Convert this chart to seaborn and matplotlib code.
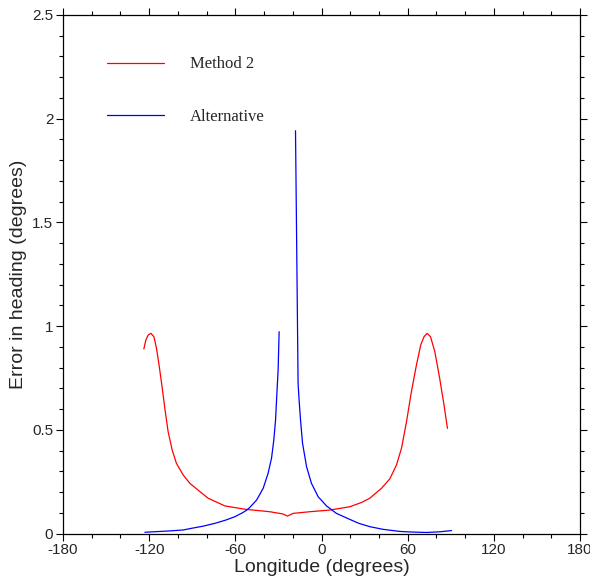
import numpy as np
import pandas as pd
import seaborn as sns
import matplotlib
matplotlib.use("Agg")
import matplotlib.pyplot as plt
from matplotlib.ticker import MultipleLocator, FuncFormatter

sns.set_theme(style="ticks")
plt.rcParams['font.family'] = ['Liberation Sans', 'DejaVu Sans']
plt.rcParams['axes.unicode_minus'] = False

# Method 2 (red)
m2_lon = [-123.7, -122.3, -120.7, -118.8, -116.7, -114.9, -113.1, -111.2, -109.1, -106.8,
          -104.0, -101.0, -96.3, -91.7, -85.2, -78.9, -67.3, -53.4, -36.0, -26.7,
          -23.7, -19.8, -8.1, 5.8, 19.7, 28.0, 33.6, 41.8, 47.5, 52.2,
          55.7, 59.2, 62.6, 66.1, 69.1, 71.4, 73.5, 75.9, 78.9, 82.3, 85.3, 87.7]
m2_err = [0.890, 0.933, 0.957, 0.965, 0.949, 0.893, 0.812, 0.716, 0.604, 0.491,
          0.403, 0.338, 0.282, 0.242, 0.205, 0.170, 0.133, 0.117, 0.105, 0.094,
          0.084, 0.097, 0.105, 0.113, 0.129, 0.150, 0.170, 0.218, 0.263, 0.330,
          0.411, 0.539, 0.684, 0.812, 0.909, 0.949, 0.965, 0.949, 0.877, 0.748, 0.620, 0.507]

# Alternative (blue), two branches either side of the singularity
alt_left_lon = [-123.0, -106.8, -96.3, -90.5, -82.0, -74.2, -67.0, -60.3, -55.0, -52.2,
                -49.9, -45.2, -40.6, -37.2, -34.8, -33.2, -32.0, -31.3, -30.2, -29.5]
alt_left_err = [0.006, 0.012, 0.017, 0.025, 0.036, 0.049, 0.064, 0.081, 0.100, 0.112,
                0.126, 0.161, 0.218, 0.290, 0.363, 0.451, 0.547, 0.644, 0.788, 0.973]
alt_right_lon = [-18.1, -16.3, -15.6, -14.6, -13.2, -10.4, -7.0, -2.3, 3.5, 10.4,
                 19.7, 26.0, 33.6, 42.9, 54.5, 63.0, 73.1, 82.0, 90.5]
alt_right_err = [1.942, 0.724, 0.644, 0.547, 0.435, 0.322, 0.242, 0.177, 0.133, 0.097,
                 0.068, 0.049, 0.033, 0.020, 0.010, 0.007, 0.005, 0.008, 0.014]

df = pd.concat([
    pd.DataFrame({'lon': m2_lon, 'err': m2_err, 'series': 'Method 2', 'branch': 'a'}),
    pd.DataFrame({'lon': alt_left_lon, 'err': alt_left_err, 'series': 'Alternative', 'branch': 'a'}),
    pd.DataFrame({'lon': alt_right_lon, 'err': alt_right_err, 'series': 'Alternative', 'branch': 'b'}),
], ignore_index=True)

fig = plt.figure(figsize=(5.9, 5.81), dpi=100)
ax = fig.add_axes([63 / 590, 1 - 533.5 / 581, 517 / 590, 518.5 / 581])

sns.lineplot(data=df, x='lon', y='err', hue='series', units='branch', estimator=None,
             sort=False, palette={'Method 2': '#ff0000', 'Alternative': '#0000ff'},
             linewidth=0.9, ax=ax)

ax.set_xlim(-180, 180)
ax.set_ylim(0, 2.5)
ax.xaxis.set_major_locator(MultipleLocator(60))
ax.xaxis.set_minor_locator(MultipleLocator(20))
ax.yaxis.set_major_locator(MultipleLocator(0.5))
ax.yaxis.set_minor_locator(MultipleLocator(0.1))
ax.yaxis.set_major_formatter(FuncFormatter(lambda v, p: f'{v:g}'))

for s in ax.spines.values():
    s.set_visible(True)
    s.set_color('black')
    s.set_linewidth(0.9)
ax.tick_params(which='both', direction='out', top=True, right=True, color='black', width=0.8)
ax.tick_params(which='major', length=5, labelsize=11, pad=2)
ax.tick_params(which='minor', length=3)

ax.set_xlabel('Longitude (degrees)', fontsize=14, labelpad=1)
ax.set_ylabel('Error in heading (degrees)', fontsize=14, labelpad=4)

handles, labels = ax.get_legend_handles_labels()
ax.legend(handles, labels, loc='upper left', bbox_to_anchor=(0.085, 0.92),
          frameon=False, borderaxespad=0, borderpad=0, handlelength=3.4,
          handletextpad=1.6, labelspacing=2.2,
          prop={'family': 'Liberation Serif', 'size': 12})

fig.savefig('out.png', dpi=100)
